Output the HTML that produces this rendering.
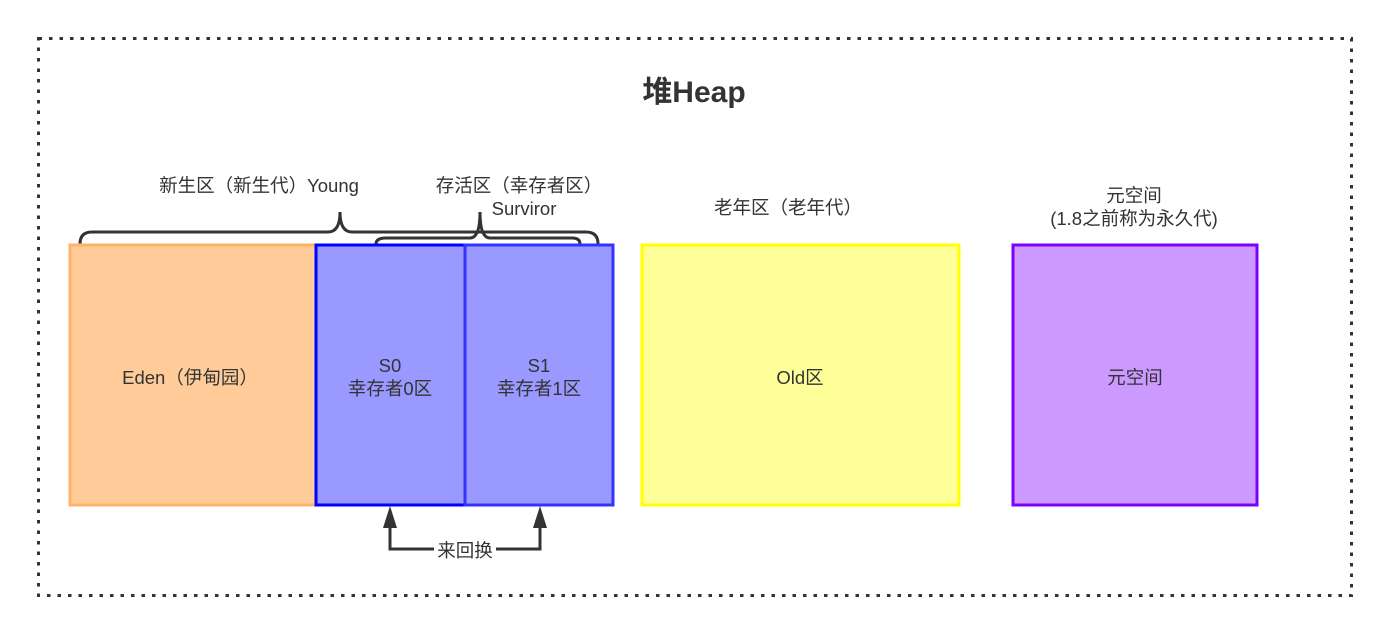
<!DOCTYPE html>
<html><head><meta charset="utf-8"><style>
html,body{margin:0;padding:0;background:#fff;}
svg{display:block;font-family:"Liberation Sans","Noto Sans CJK SC",sans-serif;}
</style></head><body>
<svg width="1389" height="633" viewBox="0 0 1389 633" xmlns="http://www.w3.org/2000/svg">
<rect x="38.5" y="38.5" width="1313" height="557" fill="none" stroke="#333" stroke-width="3" stroke-dasharray="3.5 7"/>
<text x="694" y="102" font-size="30" font-weight="bold" fill="#333" text-anchor="middle">堆Heap</text>
<g font-size="18.5" fill="#333" text-anchor="middle">
<text x="259" y="192">新生区（新生代）Young</text>
<text x="519" y="192">存活区（幸存者区）</text>
<text x="524" y="215">Surviror</text>
<text x="788" y="214">老年区（老年代）</text>
<text x="1134" y="202">元空间</text>
<text x="1134" y="225">(1.8之前称为永久代)</text>
</g>
<path d="M80,244 Q80,232 92,232 L328,232 Q340,232 340,212 Q340,232 352,232 L586,232 Q598,232 598,244" fill="none" stroke="#333" stroke-width="3"/>
<path d="M376,244 Q376,238 386,238 L470,238 Q480,238 480,212 Q480,238 490,238 L572,238 Q580,238 580,244" fill="none" stroke="#333" stroke-width="3"/>
<rect x="70" y="245" width="246" height="260" fill="#ffcc99" stroke="#ffb366" stroke-width="3"/>
<rect x="316" y="245" width="149" height="260" fill="#9999ff" stroke="#0000ff" stroke-width="3"/>
<rect x="465" y="245" width="148" height="260" fill="#9999ff" stroke="#3333ff" stroke-width="3"/>
<rect x="642" y="245" width="317" height="260" fill="#ffff99" stroke="#ffff00" stroke-width="3"/>
<rect x="1013" y="245" width="244" height="260" fill="#cc99ff" stroke="#7f00ff" stroke-width="3"/>
<g font-size="18.5" fill="#333" text-anchor="middle">
<text x="190" y="384">Eden（伊甸园）</text>
<text x="390" y="372">S0</text>
<text x="390" y="395">幸存者0区</text>
<text x="539" y="372">S1</text>
<text x="539" y="395">幸存者1区</text>
<text x="800" y="384">Old区</text>
<text x="1135" y="384">元空间</text>
</g>
<path d="M390,528 L390,549 L540,549 L540,528" fill="none" stroke="#333" stroke-width="3"/>
<polygon points="390,506 383,528 397,528" fill="#333"/>
<polygon points="540,506 533,528 547,528" fill="#333"/>
<rect x="434" y="538" width="62" height="24" fill="#fff"/>
<text x="465" y="557" font-size="18.5" fill="#333" text-anchor="middle">来回换</text>
</svg>
</body></html>
